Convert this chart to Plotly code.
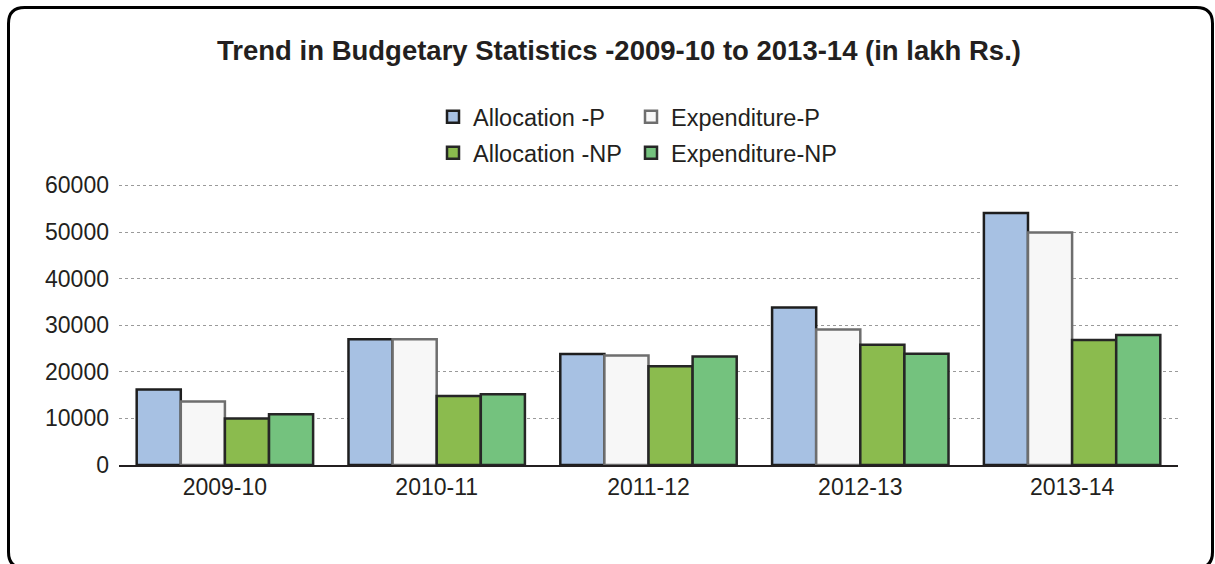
import plotly.graph_objects as go

years = ["2009-10", "2010-11", "2011-12", "2012-13", "2013-14"]
allocation_p = [16200, 27000, 23800, 33800, 54100]
expenditure_p = [13600, 27000, 23500, 29100, 49900]
allocation_np = [10000, 14800, 21200, 25800, 26800]
expenditure_np = [10900, 15200, 23300, 23900, 27900]

W, H = 1215, 564
L, R, T, B = 119, 1178, 184, 465  # plot area in px

FONT = "Liberation Sans, Arial, sans-serif"
TXT = "#231f20"

# name, values, fill, edge, legend id, legend x (px), legend row y (px)
series = [
    ("Allocation -P", allocation_p, "#a7c1e3", "#1e1e1e", "legend", 433, 117),
    ("Expenditure-P", expenditure_p, "#f7f7f7", "#6e6e6e", "legend2", 631, 117),
    ("Allocation -NP", allocation_np, "#8bbb4e", "#262626", "legend3", 433, 153),
    ("Expenditure-NP", expenditure_np, "#74c27e", "#262626", "legend4", 631, 153),
]

def px(x):
    return (x - L) / (R - L)

def py(y):
    return (B - y) / (B - T)

fig = go.Figure()
legends = {}
for name, vals, fill, edge, lg, lx, ly in series:
    fig.add_trace(go.Bar(
        x=years, y=vals, name=name, legend=lg,
        marker=dict(color=fill, line=dict(color=edge, width=2.5)),
    ))
    legends[lg] = dict(
        orientation="h", x=px(lx), xanchor="left",
        y=1 - ly / H, yref="container", yanchor="middle",
        font=dict(size=23.5, color=TXT), bgcolor="rgba(0,0,0,0)",
    )

# rounded border
x0, x1, y0, y1, r = 8.5, 1212.5, 7.5, 568, 16
path = (
    f"M {px(x0 + r)},{py(y0)} L {px(x1 - r)},{py(y0)} "
    f"Q {px(x1)},{py(y0)} {px(x1)},{py(y0 + r)} "
    f"L {px(x1)},{py(y1 - r)} Q {px(x1)},{py(y1)} {px(x1 - r)},{py(y1)} "
    f"L {px(x0 + r)},{py(y1)} Q {px(x0)},{py(y1)} {px(x0)},{py(y1 - r)} "
    f"L {px(x0)},{py(y0 + r)} Q {px(x0)},{py(y0)} {px(x0 + r)},{py(y0)} Z"
)

fig.update_layout(
    width=W, height=H,
    margin=dict(l=L, r=W - R, t=T, b=H - B, autoexpand=False),
    paper_bgcolor="white", plot_bgcolor="white",
    font=dict(family=FONT, color=TXT, size=22),
    barmode="group", bargap=0.167, bargroupgap=0,
    title=dict(
        text="<b>Trend in Budgetary Statistics -2009-10 to 2013-14 (in lakh Rs.)</b>",
        x=619 / W, xanchor="center", xref="container",
        y=1 - 50 / H, yanchor="middle", yref="container",
        font=dict(family=FONT, size=27.5, color=TXT),
    ),
    xaxis=dict(
        type="category",
        showline=True, linecolor="#231f20", linewidth=2,
        showgrid=False, ticks="", tickfont=dict(size=23, color=TXT),
    ),
    yaxis=dict(
        range=[0, 60300], tickvals=[0, 10000, 20000, 30000, 40000, 50000, 60000],
        ticktext=["0", "10000", "20000", "30000", "40000", "50000", "60000"],
        showgrid=True, gridcolor="#9a9a9a", griddash="dot", gridwidth=1,
        zeroline=False, showline=False, ticks="", ticklabelstandoff=9,
        tickfont=dict(size=23, color=TXT),
    ),
    shapes=[dict(
        type="path", path=path, xref="paper", yref="paper",
        line=dict(color="#000000", width=3), fillcolor="rgba(0,0,0,0)", layer="above",
    )],
    showlegend=True,
    **legends,
)

fig.write_html(
    "out.html",
    config={"displayModeBar": False},
    post_script="document.body.style.margin='0';document.body.style.overflow='hidden';",
)
